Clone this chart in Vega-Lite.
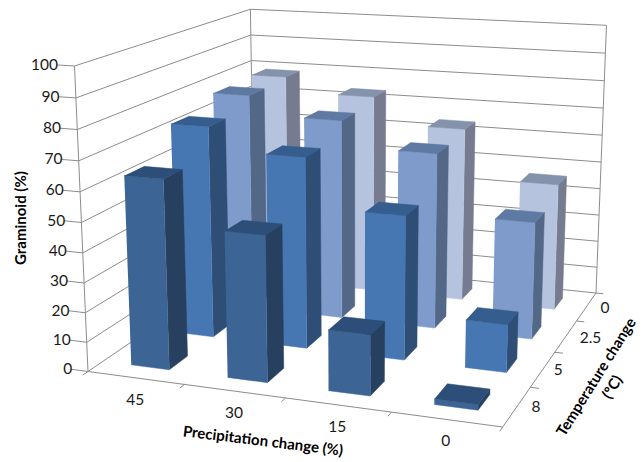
{"$schema":"https://vega.github.io/schema/vega-lite/v6.json","autosize":{"type":"fit","contains":"padding"},"width":643,"height":462,"padding":0,"background":"white","config":{"view":{"stroke":null},"font":"Lato"},
"datasets":{
"bars":[
{"precipitation":45,"temperature":0,"graminoid":78.9},{"precipitation":30,"temperature":0,"graminoid":73.5},{"precipitation":15,"temperature":0,"graminoid":63.9},{"precipitation":0,"temperature":0,"graminoid":46.2},
{"precipitation":45,"temperature":2.5,"graminoid":78.1},{"precipitation":30,"temperature":2.5,"graminoid":71.4},{"precipitation":15,"temperature":2.5,"graminoid":62.3},{"precipitation":0,"temperature":2.5,"graminoid":41.2},
{"precipitation":45,"temperature":5,"graminoid":73.7},{"precipitation":30,"temperature":5,"graminoid":65.9},{"precipitation":15,"temperature":5,"graminoid":49.2},{"precipitation":0,"temperature":5,"graminoid":16.2},
{"precipitation":45,"temperature":8,"graminoid":63.7},{"precipitation":30,"temperature":8,"graminoid":48.6},{"precipitation":15,"temperature":8,"graminoid":20},{"precipitation":0,"temperature":8,"graminoid":1.8}],
"levels":[{"g":0},{"g":10},{"g":20},{"g":30},{"g":40},{"g":50},{"g":60},{"g":70},{"g":80},{"g":90},{"g":100}],
"frame":[
{"id":"a","p":0,"t":0,"g":0,"s":0},{"id":"a","p":0,"t":0,"g":100,"s":1},
{"id":"b","p":0,"t":4,"g":0,"s":0},{"id":"b","p":0,"t":4,"g":100,"s":1},
{"id":"c","p":4,"t":4,"g":0,"s":0},{"id":"c","p":4,"t":4,"g":100,"s":1},
{"id":"f","p":0,"t":0,"g":0,"s":0},{"id":"f","p":4,"t":0,"g":0,"s":1},{"id":"f","p":4,"t":4,"g":0,"s":2},
{"id":"p0","p":0,"t":0,"g":0,"s":0},{"id":"p0","p":0,"t":-0.1,"g":0,"s":1},
{"id":"p1","p":1,"t":0,"g":0,"s":0},{"id":"p1","p":1,"t":-0.1,"g":0,"s":1},
{"id":"p2","p":2,"t":0,"g":0,"s":0},{"id":"p2","p":2,"t":-0.1,"g":0,"s":1},
{"id":"p3","p":3,"t":0,"g":0,"s":0},{"id":"p3","p":3,"t":-0.1,"g":0,"s":1},
{"id":"p4","p":4,"t":0,"g":0,"s":0},{"id":"p4","p":4,"t":-0.1,"g":0,"s":1},
{"id":"t1","p":4,"t":1,"g":0,"s":0},{"id":"t1","p":4.08,"t":1,"g":0,"s":1},
{"id":"t2","p":4,"t":2,"g":0,"s":0},{"id":"t2","p":4.08,"t":2,"g":0,"s":1},
{"id":"t3","p":4,"t":3,"g":0,"s":0},{"id":"t3","p":4.08,"t":3,"g":0,"s":1},
{"id":"t4","p":4,"t":4,"g":0,"s":0},{"id":"t4","p":4.08,"t":4,"g":0,"s":1}],
"tickLabels":[
{"label":"45","p":0.75,"t":-0.5,"g":0},{"label":"30","p":1.71,"t":-0.49,"g":0},{"label":"15","p":2.67,"t":-0.48,"g":0},{"label":"0","p":3.63,"t":-0.46,"g":0},
{"label":"8","p":4.16,"t":0.55,"g":0},{"label":"5","p":4.14,"t":1.53,"g":0},{"label":"2.5","p":4.24,"t":2.53,"g":0},{"label":"0","p":4.19,"t":3.52,"g":0}],
"titles":[
{"label":"Graminoid (%)","p":-0.636,"t":0,"g":49.5,"angle":270},
{"label":"Precipitation change (%)","p":2.19,"t":-0.977,"g":0,"angle":7},
{"label":"Temperature change","p":4.51,"t":1.464,"g":0,"angle":302},
{"label":"(ºC)","p":4.7,"t":1.258,"g":0,"angle":302}]
},
"encoding":{
"x":{"field":"X","type":"quantitative","scale":{"domain":[0,643],"nice":false,"zero":false},"axis":null},
"y":{"field":"Y","type":"quantitative","scale":{"domain":[462,0],"nice":false,"zero":false},"axis":null}},
"layer":[
{"data":{"name":"levels"},
"transform":[{"calculate":"[0,1,2,3]","as":"s"},{"flatten":["s"]},
{"calculate":"datum.s==0?-0.045:datum.s==3?1:0","as":"u"},{"calculate":"datum.s<2?0:1","as":"v"},{"calculate":"datum.g/100","as":"w"},
{"calculate":"(369.19*datum.u+227.35*datum.v-17.08*datum.w+88)/(1-0.09054*datum.u+0.23909*datum.v-0.048*datum.w)","as":"X"},
{"calculate":"(16.84*datum.u-51.81*datum.v-308.67*datum.w+371.5)/(1-0.09054*datum.u+0.23909*datum.v-0.048*datum.w)","as":"Y"}],
"mark":{"type":"line","color":"#8c8c8c","strokeWidth":1},
"encoding":{"detail":{"field":"g"},"order":{"field":"s"}}},
{"data":{"name":"frame"},
"transform":[{"calculate":"datum.p/4","as":"u"},{"calculate":"datum.t/4","as":"v"},{"calculate":"datum.g/100","as":"w"},
{"calculate":"(369.19*datum.u+227.35*datum.v-17.08*datum.w+88)/(1-0.09054*datum.u+0.23909*datum.v-0.048*datum.w)","as":"X"},
{"calculate":"(16.84*datum.u-51.81*datum.v-308.67*datum.w+371.5)/(1-0.09054*datum.u+0.23909*datum.v-0.048*datum.w)","as":"Y"}],
"mark":{"type":"line","color":"#8c8c8c","strokeWidth":1},
"encoding":{"detail":{"field":"id"},"order":{"field":"s"}}},
{"data":{"name":"bars"},
"transform":[
{"calculate":"indexof([45,30,15,0],datum.precipitation)","as":"i"},
{"calculate":"indexof([8,5,2.5,0],datum.temperature)","as":"j"},
{"calculate":"['side','front','top']","as":"face"},{"flatten":["face"]},
{"calculate":"[0,1,2,3]","as":"s"},{"flatten":["s"]},
{"calculate":"(datum.i+0.3)/4","as":"u0"},{"calculate":"(datum.i+0.7)/4","as":"u1"},
{"calculate":"(datum.j+0.3)/4","as":"v0"},{"calculate":"(datum.j+0.7)/4","as":"v1"},
{"calculate":"datum.graminoid/100","as":"wt"},
{"calculate":"datum.face=='side'?datum.u1:((datum.s==0||datum.s==3)?datum.u0:datum.u1)","as":"u"},
{"calculate":"datum.face=='front'?datum.v0:datum.face=='side'?((datum.s==0||datum.s==3)?datum.v0:datum.v1):(datum.s<2?datum.v0:datum.v1)","as":"v"},
{"calculate":"datum.face=='top'?datum.wt:(datum.s<2?0:datum.wt)","as":"w"},
{"calculate":"(369.19*datum.u+227.35*datum.v-17.08*datum.w+88)/(1-0.09054*datum.u+0.23909*datum.v-0.048*datum.w)","as":"X"},
{"calculate":"(16.84*datum.u-51.81*datum.v-308.67*datum.w+371.5)/(1-0.09054*datum.u+0.23909*datum.v-0.048*datum.w)","as":"Y"},
{"calculate":"datum.temperature+'-'+datum.face","as":"shade"},
{"calculate":"datum.precipitation+'-'+datum.temperature+'-'+datum.face","as":"poly"}],
"mark":{"type":"line","filled":true,"strokeWidth":0.5},
"encoding":{
"detail":{"field":"poly"},"order":{"field":"s"},
"color":{"field":"shade","type":"nominal","legend":null,"scale":{"domain":["8-front","8-side","8-top","5-front","5-side","5-top","2.5-front","2.5-side","2.5-top","0-front","0-side","0-top"],"range":["#3C6595","#27405F","#2D4E78","#4777B2","#2E4E76","#355D8E","#7F9BCB","#536886","#5E7AA3","#B6C3DF","#767B90","#8592AC"]}},
"stroke":{"field":"shade","type":"nominal","legend":null,"scale":{"domain":["8-front","8-side","8-top","5-front","5-side","5-top","2.5-front","2.5-side","2.5-top","0-front","0-side","0-top"],"range":["#3C6595","#27405F","#2D4E78","#4777B2","#2E4E76","#355D8E","#7F9BCB","#536886","#5E7AA3","#B6C3DF","#767B90","#8592AC"]}}}},
{"data":{"name":"levels"},
"transform":[{"calculate":"''+datum.g","as":"label"},{"calculate":"-0.042","as":"u"},{"calculate":"0","as":"v"},{"calculate":"datum.g/100","as":"w"},
{"calculate":"(369.19*datum.u+227.35*datum.v-17.08*datum.w+88)/(1-0.09054*datum.u+0.23909*datum.v-0.048*datum.w)","as":"X"},
{"calculate":"(16.84*datum.u-51.81*datum.v-308.67*datum.w+371.5)/(1-0.09054*datum.u+0.23909*datum.v-0.048*datum.w)","as":"Y"}],
"mark":{"type":"text","align":"right","baseline":"middle","fontSize":15.5,"color":"#1a1a1a"},
"encoding":{"text":{"field":"label"}}},
{"data":{"name":"tickLabels"},
"transform":[{"calculate":"datum.p/4","as":"u"},{"calculate":"datum.t/4","as":"v"},{"calculate":"datum.g/100","as":"w"},
{"calculate":"(369.19*datum.u+227.35*datum.v-17.08*datum.w+88)/(1-0.09054*datum.u+0.23909*datum.v-0.048*datum.w)","as":"X"},
{"calculate":"(16.84*datum.u-51.81*datum.v-308.67*datum.w+371.5)/(1-0.09054*datum.u+0.23909*datum.v-0.048*datum.w)","as":"Y"}],
"mark":{"type":"text","align":"center","baseline":"middle","fontSize":15.5,"color":"#1a1a1a"},
"encoding":{"text":{"field":"label"}}},
{"data":{"name":"titles"},
"transform":[{"calculate":"datum.p/4","as":"u"},{"calculate":"datum.t/4","as":"v"},{"calculate":"datum.g/100","as":"w"},
{"calculate":"(369.19*datum.u+227.35*datum.v-17.08*datum.w+88)/(1-0.09054*datum.u+0.23909*datum.v-0.048*datum.w)","as":"X"},
{"calculate":"(16.84*datum.u-51.81*datum.v-308.67*datum.w+371.5)/(1-0.09054*datum.u+0.23909*datum.v-0.048*datum.w)","as":"Y"}],
"mark":{"type":"text","align":"center","baseline":"middle","fontSize":15,"fontWeight":"bold","color":"#000000"},
"encoding":{"text":{"field":"label"},"angle":{"field":"angle","type":"quantitative","scale":null}}}
]}
